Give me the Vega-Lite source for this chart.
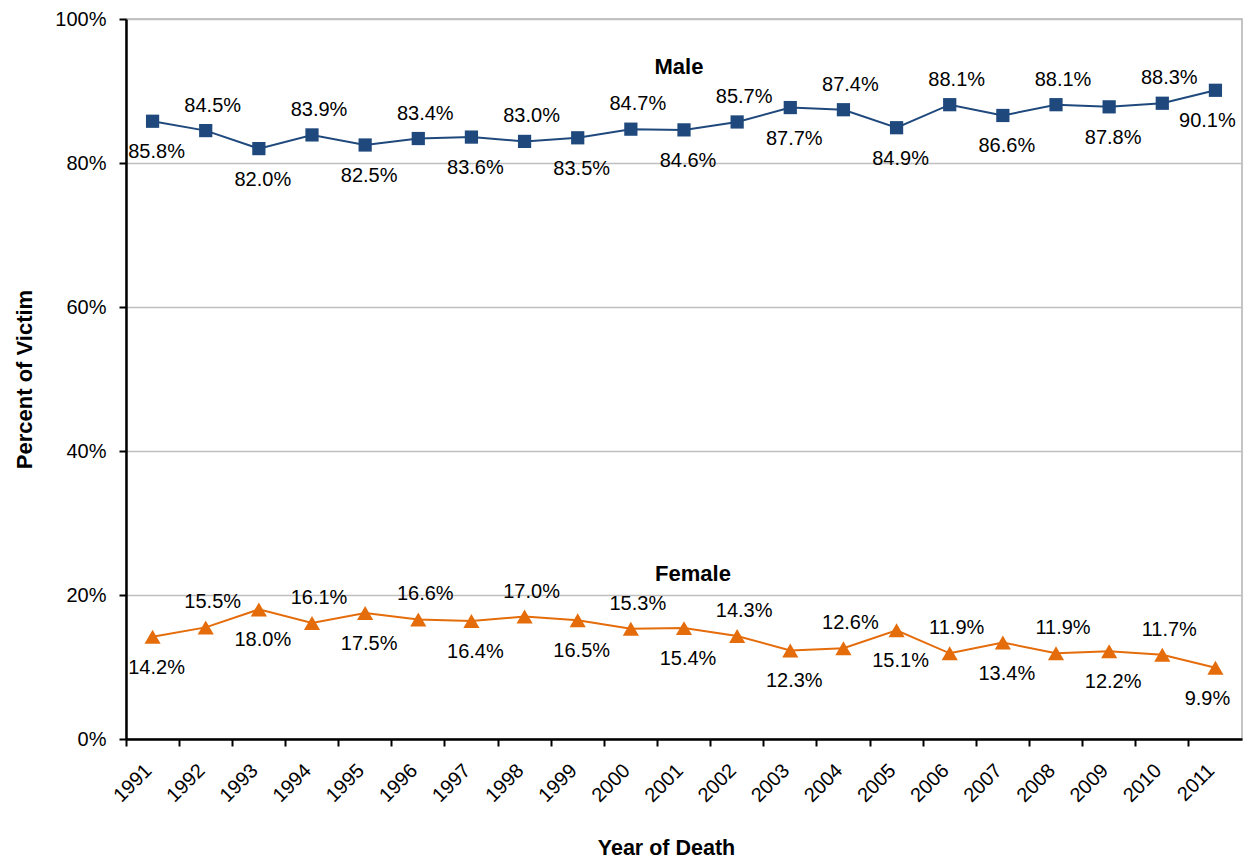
{
  "$schema": "https://vega.github.io/schema/vega-lite/v6.json",
  "width": 1116,
  "height": 720,
  "autosize": {"type": "none"},
  "padding": {"left": 126, "top": 19, "right": 3, "bottom": 119},
  "background": "white",
  "config": {
    "view": {"stroke": "#b3b3b3", "strokeWidth": 1.5},
    "font": "Liberation Sans",
    "axis": {"labelFont": "Liberation Sans", "titleFont": "Liberation Sans", "labelColor": "#000000", "titleColor": "#000000"}
  },
  "datasets": {
    "series": [
      {"year": "1991", "sex": "Male", "value": 0.858},
      {"year": "1992", "sex": "Male", "value": 0.845},
      {"year": "1993", "sex": "Male", "value": 0.820},
      {"year": "1994", "sex": "Male", "value": 0.839},
      {"year": "1995", "sex": "Male", "value": 0.825},
      {"year": "1996", "sex": "Male", "value": 0.834},
      {"year": "1997", "sex": "Male", "value": 0.836},
      {"year": "1998", "sex": "Male", "value": 0.830},
      {"year": "1999", "sex": "Male", "value": 0.835},
      {"year": "2000", "sex": "Male", "value": 0.847},
      {"year": "2001", "sex": "Male", "value": 0.846},
      {"year": "2002", "sex": "Male", "value": 0.857},
      {"year": "2003", "sex": "Male", "value": 0.877},
      {"year": "2004", "sex": "Male", "value": 0.874},
      {"year": "2005", "sex": "Male", "value": 0.849},
      {"year": "2006", "sex": "Male", "value": 0.881},
      {"year": "2007", "sex": "Male", "value": 0.866},
      {"year": "2008", "sex": "Male", "value": 0.881},
      {"year": "2009", "sex": "Male", "value": 0.878},
      {"year": "2010", "sex": "Male", "value": 0.883},
      {"year": "2011", "sex": "Male", "value": 0.901},
      {"year": "1991", "sex": "Female", "value": 0.142},
      {"year": "1992", "sex": "Female", "value": 0.155},
      {"year": "1993", "sex": "Female", "value": 0.180},
      {"year": "1994", "sex": "Female", "value": 0.161},
      {"year": "1995", "sex": "Female", "value": 0.175},
      {"year": "1996", "sex": "Female", "value": 0.166},
      {"year": "1997", "sex": "Female", "value": 0.164},
      {"year": "1998", "sex": "Female", "value": 0.170},
      {"year": "1999", "sex": "Female", "value": 0.165},
      {"year": "2000", "sex": "Female", "value": 0.153},
      {"year": "2001", "sex": "Female", "value": 0.154},
      {"year": "2002", "sex": "Female", "value": 0.143},
      {"year": "2003", "sex": "Female", "value": 0.123},
      {"year": "2004", "sex": "Female", "value": 0.126},
      {"year": "2005", "sex": "Female", "value": 0.151},
      {"year": "2006", "sex": "Female", "value": 0.119},
      {"year": "2007", "sex": "Female", "value": 0.134},
      {"year": "2008", "sex": "Female", "value": 0.119},
      {"year": "2009", "sex": "Female", "value": 0.122},
      {"year": "2010", "sex": "Female", "value": 0.117},
      {"year": "2011", "sex": "Female", "value": 0.099}
    ]
  },
  "data": {"name": "series"},
  "encoding": {
    "x": {
      "field": "year",
      "type": "ordinal",
      "scale": {"type": "band", "paddingInner": 0, "paddingOuter": 0},
      "axis": {
        "title": "Year of Death",
        "titleFontSize": 21.5,
        "titleFontWeight": "bold",
        "titleX": 540,
        "titleY": 115,
        "titleBaseline": "alphabetic",
        "bandPosition": 0,
        "labelOffset": -11,
        "labelAngle": -45,
        "labelFontSize": 20,
        "labelPadding": 14,
        "tickSize": 7,
        "tickWidth": 2,
        "tickColor": "#000000",
        "domainColor": "#000000",
        "domainWidth": 2.5,
        "grid": false
      }
    },
    "y": {
      "field": "value",
      "type": "quantitative",
      "scale": {"domain": [0, 1], "nice": false, "zero": true},
      "axis": {
        "title": "Percent of Victim",
        "titleFontSize": 22,
        "titleFontWeight": "bold",
        "titlePadding": 18,
        "format": ".0%",
        "values": [0, 0.2, 0.4, 0.6, 0.8, 1.0],
        "labelFontSize": 20,
        "labelPadding": 13,
        "tickSize": 7,
        "tickWidth": 2,
        "tickColor": "#000000",
        "domainColor": "#000000",
        "domainWidth": 2.5,
        "grid": true,
        "gridColor": "#bfbfbf",
        "gridWidth": 1.5
      }
    },
    "color": {
      "field": "sex",
      "type": "nominal",
      "scale": {"domain": ["Male", "Female"], "range": ["#1f497d", "#e46c0a"]},
      "legend": null
    }
  },
  "layer": [
    {"mark": {"type": "line", "strokeWidth": 2}},
    {
      "mark": {"type": "point", "filled": true, "opacity": 1},
      "encoding": {
        "shape": {"field": "sex", "type": "nominal", "scale": {"domain": ["Male", "Female"], "range": ["square", "triangle-up"]}, "legend": null},
        "size": {"field": "sex", "type": "nominal", "scale": {"domain": ["Male", "Female"], "range": [175, 260]}, "legend": null}
      }
    },
    {
      "transform": [{"filter": "toNumber(datum.year) % 2 == 1 && datum.year != '2011'"}],
      "mark": {"type": "text", "fontSize": 20, "dy": 31, "dx": 4},
      "encoding": {"text": {"field": "value", "type": "quantitative", "format": ".1%"}, "color": {"value": "#000000"}}
    },
    {
      "transform": [{"filter": "datum.year == '2011'"}],
      "mark": {"type": "text", "fontSize": 20, "dy": 31, "dx": -8},
      "encoding": {"text": {"field": "value", "type": "quantitative", "format": ".1%"}, "color": {"value": "#000000"}}
    },
    {
      "transform": [{"filter": "toNumber(datum.year) % 2 == 0"}],
      "mark": {"type": "text", "fontSize": 20, "dy": -25, "dx": 7},
      "encoding": {"text": {"field": "value", "type": "quantitative", "format": ".1%"}, "color": {"value": "#000000"}}
    },
    {
      "data": {"values": [{"year": "2001", "value": 0.934, "label": "Male"}]},
      "mark": {"type": "text", "fontSize": 22, "fontWeight": "bold", "dx": -5},
      "encoding": {"text": {"field": "label"}, "color": {"value": "#000000"}}
    },
    {
      "data": {"values": [{"year": "2001", "value": 0.2285, "label": "Female"}]},
      "mark": {"type": "text", "fontSize": 22, "fontWeight": "bold", "dx": 9},
      "encoding": {"text": {"field": "label"}, "color": {"value": "#000000"}}
    }
  ]
}
